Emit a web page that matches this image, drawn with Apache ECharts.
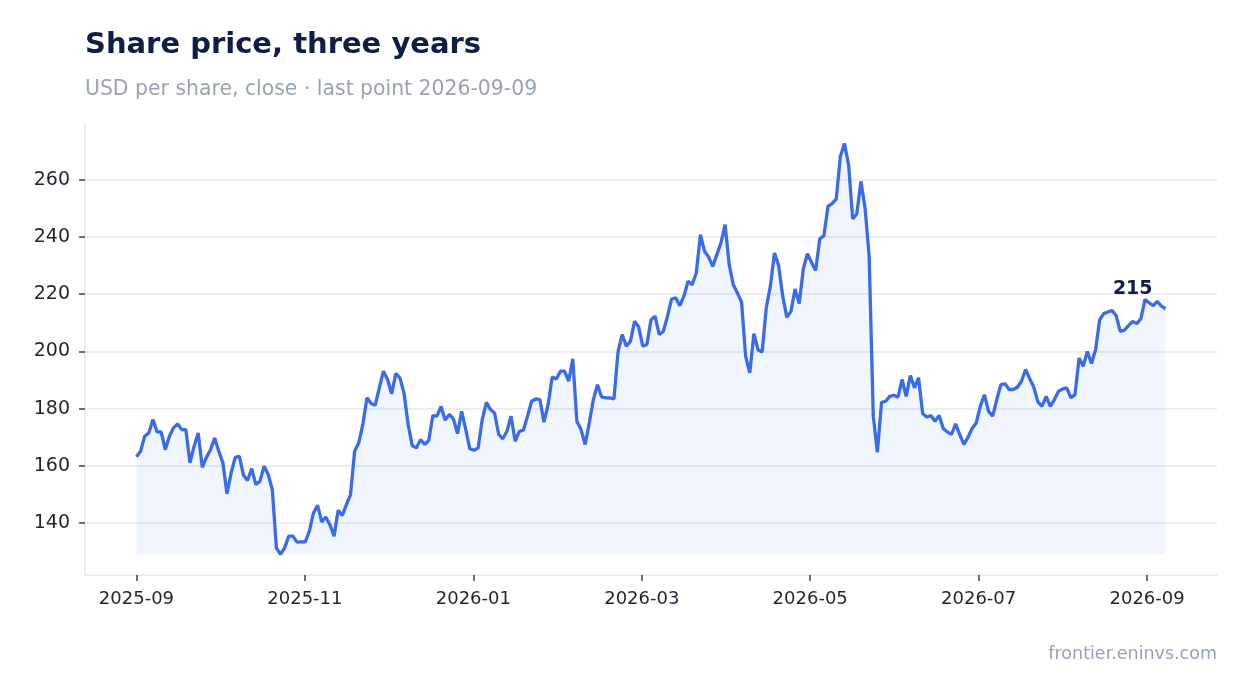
<!DOCTYPE html>
<html lang="en">
  <head>
    <meta charset="UTF-8" />
    <title>Share price, three years</title>
    <style>
      html, body { margin: 0; padding: 0; background: #ffffff; }
    </style>
  </head>
  <body>
    <div id="main" style="width: 1247px; height: 693px"></div>
    <script src="https://cdn.jsdelivr.net/npm/echarts@6.0.0/dist/echarts.min.js"></script>
    <script>
      // closing prices, evenly spaced samples, first one on 2025-09-01
      var prices = [
        163.2, 165.1, 170.4, 171.5, 176.2, 171.9, 171.9, 165.7, 170.4, 173.3,
        174.7, 172.7, 172.7, 161.1, 166.9, 171.5, 159.5, 163.0, 165.7, 169.8,
        165.1, 161.1, 150.3, 157.6, 163.0, 163.4, 156.8, 154.9, 159.1, 153.5,
        154.7, 159.9, 157.0, 151.8, 131.4, 129.1, 131.4, 135.5, 135.5, 133.4,
        133.5, 133.5, 137.2, 143.6, 146.3, 140.5, 142.2, 139.5, 135.5, 144.5,
        142.7, 146.5, 150.0, 165.1, 168.1, 174.5, 183.8, 181.8, 181.2, 187.3,
        193.1, 190.2, 185.2, 192.3, 190.8, 185.5, 174.5, 167.1, 166.3, 169.2,
        167.5, 168.9, 177.6, 177.4, 180.8, 176.0, 178.0, 176.4, 171.3, 179.1,
        172.7, 166.0, 165.5, 166.3, 176.2, 182.2, 179.7, 178.5, 171.0, 169.5,
        172.1, 177.4, 168.6, 172.1, 172.5, 177.4, 182.6, 183.4, 183.2, 175.3,
        181.4, 191.1, 190.4, 193.1, 193.1, 189.6, 197.4, 175.6, 172.7, 167.5,
        175.0, 183.2, 188.4, 184.1, 183.8, 183.8, 183.4, 200.0, 205.9, 201.8,
        203.5, 210.5, 208.6, 201.8, 202.4, 211.1, 212.3, 205.9, 207.0, 212.3,
        218.3, 218.7, 216.0, 219.3, 224.5, 223.3, 227.4, 240.8, 235.0, 233.0,
        229.7, 233.8, 237.9, 244.3, 230.3, 223.3, 220.4, 217.2, 198.3, 192.5,
        206.2, 200.6, 199.8, 215.2, 222.8, 234.4, 230.0, 219.3, 211.9, 214.0,
        221.8, 216.7, 228.8, 234.1, 231.1, 228.3, 239.3, 240.4, 250.7, 251.6,
        253.3, 268.1, 272.6, 265.2, 246.3, 248.1, 259.4, 250.1, 233.2, 177.4,
        164.8, 182.2, 182.6, 184.3, 184.7, 184.0, 190.2, 184.3, 191.6, 187.3,
        190.8, 178.3, 177.1, 177.6, 175.6, 177.6, 173.1, 171.9, 171.0, 174.7,
        171.0, 167.5, 170.0, 173.1, 175.0, 180.8, 184.9, 179.1, 177.4, 183.2,
        188.4, 188.7, 186.7, 186.7, 187.5, 189.6, 193.7, 190.5, 187.5, 182.4,
        180.8, 184.3, 180.8, 183.2, 186.1, 186.9, 187.3, 183.8, 184.9, 197.7,
        194.8, 200.0, 195.8, 200.6, 211.1, 213.2, 213.8, 214.3, 212.5, 207.0,
        207.4, 209.0, 210.5, 209.7, 211.4, 218.1, 217.0, 216.0, 217.5, 215.8,
        214.9
      ];
      var samplesPerMonth = 20.46;

      // x ticks, in months after 2025-09
      var tickMonths = [0, 2, 4, 6, 8, 10, 12];
      var tickLabels = ["2025-09", "2025-11", "2026-01", "2026-03", "2026-05", "2026-07", "2026-09"];
      var priceTicks = [140, 160, 180, 200, 220, 240, 260];

      var font = "DejaVu Sans";
      var blue = "#3a6be8";
      var grid = "#e4e8f0";

      var points = prices.map(function (p, i) {
        return [i / samplesPerMonth, p];
      });
      var last = points[points.length - 1];
      var xSpan = last[0];
      var lo = Math.min.apply(null, prices);
      var hi = Math.max.apply(null, prices);
      var yPad = (hi - lo) * 0.05;

      var myChart = echarts.init(document.getElementById("main"));
      var option = {
        backgroundColor: "#ffffff",
        animation: false,
        title: [
          {
            text: "Share price, three years",
            left: 85,
            top: 31,
            padding: 0,
            textStyle: { fontFamily: font, fontSize: 29, fontWeight: "bold", color: "#101d45" },
          },
          {
            text: "USD per share, close · last point 2026-09-09",
            left: 85,
            top: 80,
            padding: 0,
            textStyle: { fontFamily: font, fontSize: 20.4, fontWeight: "normal", color: "#97a3b6" },
          },
          {
            text: "frontier.eninvs.com",
            right: 30,
            top: 645,
            padding: 0,
            textStyle: { fontFamily: font, fontSize: 17.5, fontWeight: "normal", color: "#97a3b6" },
          },
        ],
        grid: { left: 85, right: 30, top: 123, bottom: 118 },
        xAxis: {
          type: "value",
          min: -xSpan * 0.05,
          max: xSpan * 1.05,
          axisLine: { show: true, onZero: false, lineStyle: { color: grid, width: 1.5 } },
          axisTick: { show: true, length: 6, customValues: tickMonths, lineStyle: { color: "#3a4150", width: 1.5 } },
          axisLabel: {
            customValues: tickMonths,
            formatter: function (v) {
              return tickLabels[tickMonths.indexOf(Math.round(v))];
            },
            fontFamily: font,
            fontSize: 18,
            color: "#1e2433",
            margin: 15,
          },
          splitLine: { show: false },
        },
        yAxis: {
          type: "value",
          min: lo - yPad,
          max: hi + yPad,
          axisLine: { show: true, onZero: false, lineStyle: { color: grid, width: 1.5 } },
          axisTick: { show: true, length: 6, customValues: priceTicks, lineStyle: { color: "#3a4150", width: 1.5 } },
          axisLabel: {
            customValues: priceTicks,
            fontFamily: font,
            fontSize: 19,
            color: "#1e2433",
            margin: 15,
          },
          splitLine: { show: true, lineStyle: { color: grid, width: 1.5 } },
        },
        series: [
          {
            type: "line",
            data: points,
            showSymbol: false,
            lineStyle: { color: blue, width: 3.3 },
            itemStyle: { color: blue },
            areaStyle: { origin: lo, color: "rgba(58,107,232,0.1)" },
            markPoint: {
              symbol: "circle",
              symbolSize: 1,
              itemStyle: { color: "rgba(0,0,0,0)" },
              label: {
                show: true,
                position: "top",
                distance: 10,
                align: "right",
                offset: [-13, 0],
                fontFamily: font,
                fontSize: 19,
                fontWeight: "bold",
                color: "#101d45",
                formatter: function (p) {
                  return Math.round(p.value);
                },
              },
              data: [{ coord: last, value: last[1] }],
            },
          },
        ],
      };
      myChart.setOption(option);
    </script>
  </body>
</html>
